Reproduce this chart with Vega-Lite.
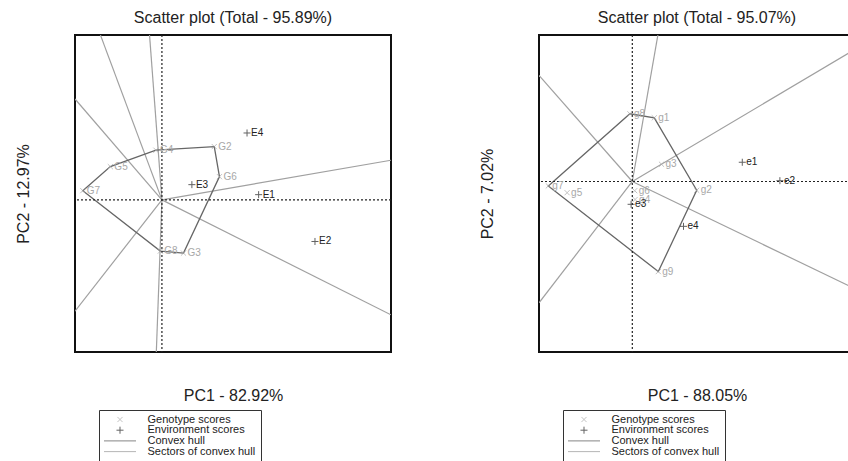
{
  "$schema": "https://vega.github.io/schema/vega-lite/v6.json",
  "padding": {"left": 14, "top": 9, "right": 0, "bottom": 0},
  "datasets": {
    "origin": [{"pc1": 0, "pc2": 0}],
    "scores1": [
      {"name": "G2", "type": "Genotype scores", "pc1": 1.31, "pc2": 1.33, "hull": 3},
      {"name": "G3", "type": "Genotype scores", "pc1": 0.54, "pc2": -1.33, "hull": 5},
      {"name": "G4", "type": "Genotype scores", "pc1": -0.15, "pc2": 1.24, "hull": 2},
      {"name": "G5", "type": "Genotype scores", "pc1": -1.29, "pc2": 0.83, "hull": 1},
      {"name": "G6", "type": "Genotype scores", "pc1": 1.44, "pc2": 0.58, "hull": 4},
      {"name": "G7", "type": "Genotype scores", "pc1": -1.98, "pc2": 0.23, "hull": 0},
      {"name": "G8", "type": "Genotype scores", "pc1": -0.04, "pc2": -1.28, "hull": 6},
      {"name": "E1", "type": "Environment scores", "pc1": 2.42, "pc2": 0.13, "hull": null},
      {"name": "E2", "type": "Environment scores", "pc1": 3.83, "pc2": -1.04, "hull": null},
      {"name": "E3", "type": "Environment scores", "pc1": 0.75, "pc2": 0.38, "hull": null},
      {"name": "E4", "type": "Environment scores", "pc1": 2.13, "pc2": 1.67, "hull": null}
    ],
    "sectors1": [
      {"pc1": -0.31, "pc2": 4.12},
      {"pc1": -1.54, "pc2": 4.12},
      {"pc1": -2.175, "pc2": 2.52},
      {"pc1": -2.175, "pc2": -2.78},
      {"pc1": -0.14, "pc2": -3.8},
      {"pc1": 5.73, "pc2": -2.87},
      {"pc1": 5.73, "pc2": 0.99}
    ],
    "scores2": [
      {"name": "g1", "type": "Genotype scores", "pc1": 0.55, "pc2": 1.59, "hull": 2},
      {"name": "g2", "type": "Genotype scores", "pc1": 1.61, "pc2": -0.22, "hull": 3},
      {"name": "g3", "type": "Genotype scores", "pc1": 0.73, "pc2": 0.43, "hull": null},
      {"name": "g4", "type": "Genotype scores", "pc1": 0.07, "pc2": -0.45, "hull": null},
      {"name": "g5", "type": "Genotype scores", "pc1": -1.63, "pc2": -0.28, "hull": null},
      {"name": "g6", "type": "Genotype scores", "pc1": 0.06, "pc2": -0.23, "hull": null},
      {"name": "g7", "type": "Genotype scores", "pc1": -2.1, "pc2": -0.11, "hull": 0},
      {"name": "g8", "type": "Genotype scores", "pc1": -0.06, "pc2": 1.69, "hull": 1},
      {"name": "g9", "type": "Genotype scores", "pc1": 0.65, "pc2": -2.25, "hull": 4},
      {"name": "e1", "type": "Environment scores", "pc1": 2.75, "pc2": 0.48, "hull": null},
      {"name": "e2", "type": "Environment scores", "pc1": 3.69, "pc2": 0.02, "hull": null},
      {"name": "e3", "type": "Environment scores", "pc1": -0.03, "pc2": -0.57, "hull": null},
      {"name": "e4", "type": "Environment scores", "pc1": 1.28, "pc2": -1.12, "hull": null}
    ],
    "sectors2": [
      {"pc1": 0.64, "pc2": 3.66},
      {"pc1": -2.333, "pc2": 2.65},
      {"pc1": -2.333, "pc2": -3.03},
      {"pc1": 5.57, "pc2": 3.3},
      {"pc1": 5.57, "pc2": -2.68}
    ]
  },
  "config": {
    "font": "Liberation Sans",
    "view": {"stroke": "#111111", "strokeWidth": 2},
    "title": {"font": "Liberation Sans", "fontSize": 16, "fontWeight": "normal", "color": "#222222", "offset": 8},
    "axis": {"domain": false, "ticks": false, "labels": false, "grid": false, "titleFont": "Liberation Sans", "titleFontSize": 16, "titleFontWeight": "normal", "titleColor": "#222222"},
    "axisX": {"titlePadding": 35},
    "axisY": {"titlePadding": 44},
    "legend": {
      "orient": "none", "legendX": 24, "legendY": 375, "direction": "vertical",
      "padding": 5, "strokeColor": "#333333", "strokeWidth": 1,
      "labelFont": "Liberation Sans", "labelFontSize": 11, "labelColor": "#222222", "labelLimit": 300,
      "symbolSize": 1024, "symbolStrokeWidth": 1, "symbolOffset": -0.5, "labelOffset": 11,
      "clipHeight": 9, "rowPadding": -1.3
    }
  },
  "spacing": 85,
  "resolve": {
    "scale": {"color": "independent", "shape": "independent"},
    "legend": {"color": "independent", "shape": "independent"}
  },
  "hconcat": [
    {
      "width": 316,
      "height": 317,
      "title": "Scatter plot (Total - 95.89%)",
      "encoding": {
        "x": {"field": "pc1", "type": "quantitative", "title": "PC1 - 82.92%", "scale": {"domain": [-2.175, 5.7325], "nice": false, "zero": false}},
        "y": {"field": "pc2", "type": "quantitative", "title": "PC2 - 12.97%", "scale": {"domain": [-3.8, 4.1175], "nice": false, "zero": false}}
      },
      "layer": [
        {
          "data": {"name": "sectors1"},
          "mark": {"type": "rule", "color": "#a0a0a0", "strokeWidth": 1.2, "clip": true},
          "encoding": {
            "x": {"datum": 0, "type": "quantitative", "title": "PC1 - 82.92%"},
            "y": {"datum": 0, "type": "quantitative", "title": "PC2 - 12.97%"},
            "x2": {"field": "pc1"},
            "y2": {"field": "pc2"}
          }
        },
        {
          "data": {"name": "scores1"},
          "transform": [{"filter": "datum.hull != null"}],
          "mark": {"type": "line", "color": "#666666", "strokeWidth": 1.3, "interpolate": "linear-closed", "clip": true},
          "encoding": {"order": {"field": "hull", "type": "quantitative"}}
        },
        {
          "data": {"name": "origin"},
          "mark": {"type": "rule", "color": "#222222", "strokeWidth": 1.2, "strokeDash": [2, 2]},
          "encoding": {"y": null}
        },
        {
          "data": {"name": "origin"},
          "mark": {"type": "rule", "color": "#222222", "strokeWidth": 1.2, "strokeDash": [2, 2]},
          "encoding": {"x": null}
        },
        {
          "data": {"name": "scores1"},
          "mark": {"type": "point", "filled": false, "size": 1024, "strokeWidth": 1, "clip": true},
          "encoding": {
            "color": {"field": "type", "type": "nominal", "legend": {"title": null},
              "scale": {"domain": ["Genotype scores", "Environment scores", "Convex hull", "Sectors of convex hull"], "range": ["#aaaaaa", "#222222", "#555555", "#999999"]}},
            "shape": {"field": "type", "type": "nominal", "legend": {"title": null},
              "scale": {"domain": ["Genotype scores", "Environment scores", "Convex hull", "Sectors of convex hull"], "range": ["M-0.16,-0.16L0.16,0.16M-0.16,0.16L0.16,-0.16", "M-0.22,0L0.22,0M0,-0.22L0,0.22", "M-1,0L1,0", "M-1,0L1,0"]}}
          }
        },
        {
          "data": {"name": "scores1"},
          "mark": {"type": "text", "align": "left", "baseline": "middle", "dx": 4, "fontSize": 10, "font": "Liberation Sans", "clip": true},
          "encoding": {
            "text": {"field": "name"},
            "color": {"condition": {"test": "datum.type === 'Environment scores'", "value": "#222222"}, "value": "#a8a8a8"}
          }
        }
      ]
    },
    {
      "width": 316,
      "height": 317,
      "title": "Scatter plot (Total - 95.07%)",
      "encoding": {
        "x": {"field": "pc1", "type": "quantitative", "title": "PC1 - 88.05%", "scale": {"domain": [-2.333, 5.568], "nice": false, "zero": false}},
        "y": {"field": "pc2", "type": "quantitative", "title": "PC2 - 7.02%", "scale": {"domain": [-4.258, 3.658], "nice": false, "zero": false}}
      },
      "layer": [
        {
          "data": {"name": "sectors2"},
          "mark": {"type": "rule", "color": "#a0a0a0", "strokeWidth": 1.2, "clip": true},
          "encoding": {
            "x": {"datum": 0, "type": "quantitative", "title": "PC1 - 88.05%"},
            "y": {"datum": 0, "type": "quantitative", "title": "PC2 - 7.02%"},
            "x2": {"field": "pc1"},
            "y2": {"field": "pc2"}
          }
        },
        {
          "data": {"name": "scores2"},
          "transform": [{"filter": "datum.hull != null"}],
          "mark": {"type": "line", "color": "#666666", "strokeWidth": 1.3, "interpolate": "linear-closed", "clip": true},
          "encoding": {"order": {"field": "hull", "type": "quantitative"}}
        },
        {
          "data": {"name": "origin"},
          "mark": {"type": "rule", "color": "#222222", "strokeWidth": 1.2, "strokeDash": [2, 2]},
          "encoding": {"y": null}
        },
        {
          "data": {"name": "origin"},
          "mark": {"type": "rule", "color": "#222222", "strokeWidth": 1.2, "strokeDash": [2, 2]},
          "encoding": {"x": null}
        },
        {
          "data": {"name": "scores2"},
          "mark": {"type": "point", "filled": false, "size": 1024, "strokeWidth": 1, "clip": true},
          "encoding": {
            "color": {"field": "type", "type": "nominal", "legend": {"title": null},
              "scale": {"domain": ["Genotype scores", "Environment scores", "Convex hull", "Sectors of convex hull"], "range": ["#aaaaaa", "#222222", "#555555", "#999999"]}},
            "shape": {"field": "type", "type": "nominal", "legend": {"title": null},
              "scale": {"domain": ["Genotype scores", "Environment scores", "Convex hull", "Sectors of convex hull"], "range": ["M-0.16,-0.16L0.16,0.16M-0.16,0.16L0.16,-0.16", "M-0.22,0L0.22,0M0,-0.22L0,0.22", "M-1,0L1,0", "M-1,0L1,0"]}}
          }
        },
        {
          "data": {"name": "scores2"},
          "mark": {"type": "text", "align": "left", "baseline": "middle", "dx": 4, "fontSize": 10, "font": "Liberation Sans", "clip": true},
          "encoding": {
            "text": {"field": "name"},
            "color": {"condition": {"test": "datum.type === 'Environment scores'", "value": "#222222"}, "value": "#a8a8a8"}
          }
        }
      ]
    }
  ]
}
